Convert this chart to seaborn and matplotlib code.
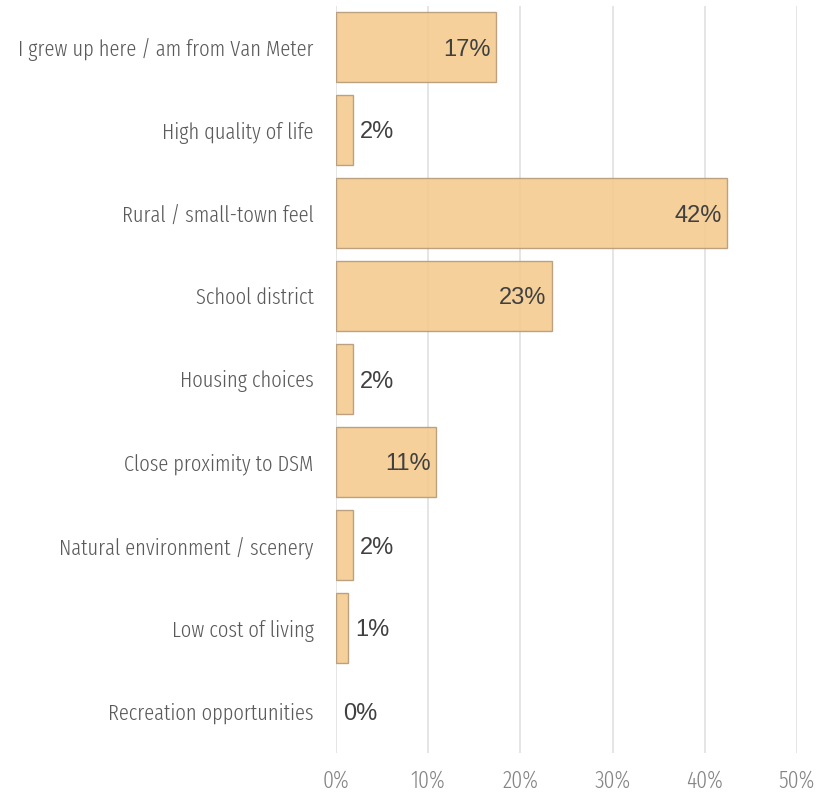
import matplotlib
matplotlib.use("Agg")
import matplotlib.pyplot as plt
from matplotlib import font_manager
import seaborn as sns
import pandas as pd

# Survey: reasons for living in Van Meter (share of respondents, %)
categories = [
    "I grew up here / am from Van Meter",
    "High quality of life",
    "Rural / small-town feel",
    "School district",
    "Housing choices",
    "Close proximity to DSM",
    "Natural environment / scenery",
    "Low cost of living",
    "Recreation opportunities",
]
shares = [17.4, 1.8, 42.4, 23.4, 1.8, 10.9, 1.8, 1.3, 0.0]
x_ticks = [0, 10, 20, 30, 40, 50]
x_tick_labels = ["0%", "10%", "20%", "30%", "40%", "50%"]

sns.set_theme(style="white")


def pick_family(preferred, fallback="DejaVu Sans"):
    available = {f.name for f in font_manager.fontManager.ttflist}
    for fam in preferred:
        if fam in available:
            return fam
    return fallback


narrow_family = pick_family(["Fira Sans Extra Condensed", "Barlow Condensed",
                             "Encode Sans Condensed", "Liberation Sans Narrow"])
value_family = pick_family(["Liberation Sans", "Arial", "DejaVu Sans"])
plt.rcParams["font.family"] = [narrow_family, "DejaVu Sans"]

df = pd.DataFrame({"reason": categories, "share": shares})

fig = plt.figure(figsize=(8.28, 8.01), dpi=100)
ax = fig.add_axes([336 / 828, 48.5 / 801, (797 - 336) / 828, (795.5 - 48.5) / 801])

grid_color = "#e0e0e0"
for t in x_ticks:
    ax.axvline(t, color=grid_color, lw=1.2, zorder=0)

sns.barplot(data=df, x="share", y="reason", orient="h", ax=ax,
            color="#f5cb8f", edgecolor="#b59a78", linewidth=1.0,
            width=0.85, alpha=0.9, saturation=1, zorder=2)

# a zero share gets no visible bar outline
for patch in ax.patches:
    if patch.get_width() == 0:
        patch.set_visible(False)

ax.set_xlim(0, 50)
ax.set_ylim(len(categories) - 0.5, -0.5)
ax.set_xticks(x_ticks)
ax.set_xticklabels(x_tick_labels)
ax.set_xlabel("")
ax.set_ylabel("")
for s in ax.spines.values():
    s.set_visible(False)
ax.tick_params(axis="both", length=0)
ax.tick_params(axis="y", pad=16)
ax.tick_params(axis="x", pad=12)

for lab in ax.get_yticklabels():
    lab.set_fontsize(16)
    lab.set_color("#5a5a5a")
    lab.set_fontweight(300)
for lab in ax.get_xticklabels():
    lab.set_fontsize(17)
    lab.set_color("#858585")
    lab.set_fontweight(300)

# Value labels: inside the bar end for long bars, just past it for short ones
for i, v in enumerate(shares):
    txt = f"{v:.0f}%"
    if v >= 8:
        ax.text(v - 0.6, i, txt, ha="right", va="center_baseline", fontsize=17,
                color="#404040", family=value_family, zorder=3)
    else:
        ax.text(v + 0.75, i, txt, ha="left", va="center_baseline", fontsize=17,
                color="#404040", family=value_family, zorder=3)

fig.savefig("out.png", dpi=100)
